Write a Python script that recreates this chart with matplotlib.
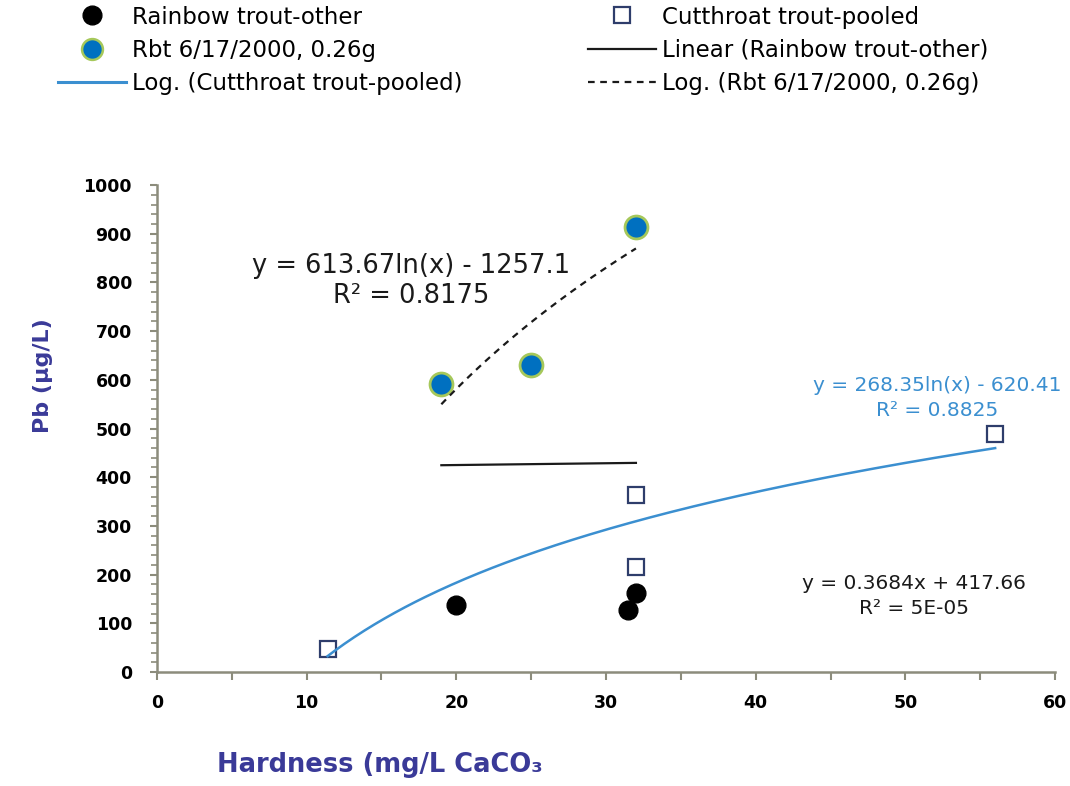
import numpy as np
import matplotlib
matplotlib.use("Agg")
import matplotlib.pyplot as plt
from matplotlib.ticker import MultipleLocator
from matplotlib.lines import Line2D

# data
rt_x = [20, 31.5, 32]
rt_y = [138, 127, 162]

rbt_x = [19, 25, 32]
rbt_y = [591, 630, 914]

ct_x = [11.4, 32, 32, 56]
ct_y = [47, 363, 215, 488]

# trendline equations as printed on the chart
lin_coef = (0.3684, 417.66)
lin_range = (19, 32)
rbt_log_coef = (613.67, -1257.1)
ct_log_coef = (268.35, -620.41)

axis_col = "#8c8c7c"
blue_line = "#3b8fd0"
label_col = "#3a3a98"

fig = plt.figure(figsize=(10.7, 7.86), dpi=100)
ax = fig.add_axes([0.1467, 0.145, 0.8393, 0.6196])

# markers
ax.plot(ct_x, ct_y, ls="none", marker="s", ms=12, mfc="white", mec="#2e3d6b", mew=1.6, zorder=3)
ax.plot(rt_x, rt_y, ls="none", marker="o", ms=13.5, mfc="black", mec="black", zorder=3)
ax.plot(rbt_x, rbt_y, ls="none", marker="o", ms=16.5, mfc="#0070c0", mec="#a6c85a", mew=2, zorder=3)

# trendlines
xl = np.array(lin_range)
ax.plot(xl, lin_coef[0] * xl + lin_coef[1], color="#1a1a1a", lw=1.6, zorder=4)

xr = np.linspace(min(rbt_x), max(rbt_x), 100)
ax.plot(xr, rbt_log_coef[0] * np.log(xr) + rbt_log_coef[1], color="#1a1a1a", lw=1.6,
        ls=(0, (3, 2.5)), zorder=4)

xc = np.linspace(min(ct_x), max(ct_x), 200)
ax.plot(xc, ct_log_coef[0] * np.log(xc) + ct_log_coef[1], color=blue_line, lw=1.8, zorder=4)

# equation labels
ax.text(17.0, 803, "y = 613.67ln(x) - 1257.1\nR² = 0.8175", ha="center", va="center",
        fontsize=18.5, color="#1a1a1a", linespacing=1.2)
ax.text(52.1, 562, "y = 268.35ln(x) - 620.41\nR² = 0.8825", ha="center", va="center",
        fontsize=14.5, color=blue_line, linespacing=1.4)
ax.text(50.6, 156, "y = 0.3684x + 417.66\nR² = 5E-05", ha="center", va="center",
        fontsize=14.5, color="#1a1a1a", linespacing=1.45)

# axes styling
ax.set_xlim(0, 60)
ax.set_ylim(0, 1000)
ax.xaxis.set_major_locator(MultipleLocator(10))
ax.xaxis.set_minor_locator(MultipleLocator(5))
ax.yaxis.set_major_locator(MultipleLocator(100))
ax.yaxis.set_minor_locator(MultipleLocator(20))
for s in ["top", "right"]:
    ax.spines[s].set_visible(False)
for s in ["left", "bottom"]:
    ax.spines[s].set_color(axis_col)
    ax.spines[s].set_linewidth(1.8)
ax.tick_params(axis="x", which="both", direction="out", length=6, width=1.5, color=axis_col,
               pad=10, labelsize=12.5)
ax.tick_params(axis="y", which="major", direction="out", length=5, width=1.5, color=axis_col,
               pad=13, labelsize=12.5)
ax.tick_params(axis="y", which="minor", direction="out", length=4, width=1.2, color=axis_col)
for lab in ax.get_xticklabels() + ax.get_yticklabels():
    lab.set_fontweight("bold")

fig.text(0.040, 0.522, "Pb (µg/L)", rotation=90, ha="center", va="center",
         fontsize=16, fontweight="bold", color=label_col)
fig.text(0.355, 0.027, "Hardness (mg/L CaCO₃", ha="center", va="center",
         fontsize=18.5, fontweight="bold", color=label_col)

# legend in two columns
h_rt = Line2D([], [], ls="none", marker="o", ms=13.5, mfc="black", mec="black")
h_rbt = Line2D([], [], ls="none", marker="o", ms=15, mfc="#0070c0", mec="#a6c85a", mew=1.8)
h_ctlog = Line2D([], [], color=blue_line, lw=2.2)
h_ct = Line2D([], [], ls="none", marker="s", ms=12, mfc="white", mec="#2e3d6b", mew=1.6)
h_lin = Line2D([], [], color="#1a1a1a", lw=1.6)
h_rbtlog = Line2D([], [], color="#1a1a1a", lw=1.6, ls=(0, (3, 2.5)))

leg_kw = dict(loc="upper left", frameon=False, fontsize=16.5, handlelength=2.95,
              handletextpad=0.3, labelspacing=0.45, borderpad=0, borderaxespad=0)
leg1 = fig.legend([h_rt, h_rbt, h_ctlog],
                  ["Rainbow trout-other", "Rbt 6/17/2000, 0.26g", "Log. (Cutthroat trout-pooled)"],
                  bbox_to_anchor=(58 / 1070, 0.993), **leg_kw)
leg2 = fig.legend([h_ct, h_lin, h_rbtlog],
                  ["Cutthroat trout-pooled", "Linear (Rainbow trout-other)", "Log. (Rbt 6/17/2000, 0.26g)"],
                  bbox_to_anchor=(588 / 1070, 0.993), **leg_kw)

fig.savefig("out.png", dpi=100)
